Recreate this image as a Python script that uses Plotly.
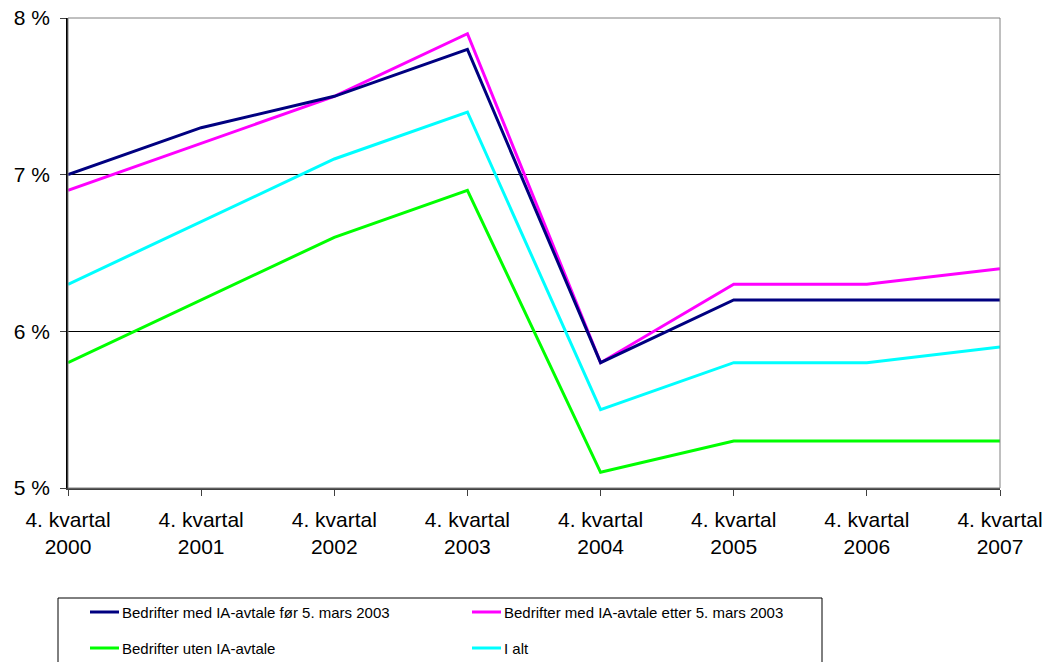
import plotly.graph_objects as go

categories = ["4. kvartal<br>2000", "4. kvartal<br>2001", "4. kvartal<br>2002", "4. kvartal<br>2003",
              "4. kvartal<br>2004", "4. kvartal<br>2005", "4. kvartal<br>2006", "4. kvartal<br>2007"]
series_names = ["Bedrifter med IA-avtale før 5. mars 2003",
                "Bedrifter med IA-avtale etter 5. mars 2003",
                "Bedrifter uten IA-avtale",
                "I alt"]
med_for = [7.0, 7.3, 7.5, 7.8, 5.8, 6.2, 6.2, 6.2]
med_etter = [6.9, 7.2, 7.5, 7.9, 5.8, 6.3, 6.3, 6.4]
uten = [5.8, 6.2, 6.6, 6.9, 5.1, 5.3, 5.3, 5.3]
i_alt = [6.3, 6.7, 7.1, 7.4, 5.5, 5.8, 5.8, 5.9]
y_ticks = [5, 6, 7, 8]
y_tick_labels = ["5 %", "6 %", "7 %", "8 %"]

colors = ["#000080", "#FF00FF", "#00FF00", "#00FFFF"]
all_series = [med_for, med_etter, uten, i_alt]
draw_order = [3, 2, 1, 0]

FONT = "Arial, Liberation Sans, sans-serif"
xs = list(range(len(categories)))

fig = go.Figure()
for i in draw_order:
    fig.add_trace(go.Scatter(x=xs, y=all_series[i], mode="lines", name=series_names[i],
                             line=dict(color=colors[i], width=3), showlegend=False))

# plot area border (grey)
fig.add_shape(type="rect", xref="paper", yref="paper", x0=0, x1=1, y0=0, y1=1,
              line=dict(color="#808080", width=1), layer="above")

# manual legend box
W, H = 932.0, 470.0
def px(x):
    return (x - 68) / W
def py(y):
    return (488 - y) / H

fig.add_shape(type="rect", xref="paper", yref="paper", x0=px(58), x1=px(822), y0=py(598), y1=py(675),
              line=dict(color="#000000", width=1), fillcolor="white", layer="above")
leg_pos = [(90, 612), (472, 612), (90, 648), (472, 648)]
for i, (lx, ly) in enumerate(leg_pos):
    fig.add_shape(type="line", xref="paper", yref="paper", x0=px(lx), x1=px(lx + 29), y0=py(ly), y1=py(ly),
                  line=dict(color=colors[i], width=3), layer="above")
    fig.add_annotation(xref="paper", yref="paper", x=px(lx + 30), y=py(ly), text=series_names[i],
                       showarrow=False, xanchor="left", yanchor="middle",
                       font=dict(family=FONT, size=15, color="black"))

fig.update_layout(
    width=1047, height=662,
    margin=dict(l=68, r=47, t=18, b=174),
    paper_bgcolor="white", plot_bgcolor="white",
    font=dict(family=FONT, size=21, color="black"),
    xaxis=dict(range=[0, 7], tickvals=xs, ticktext=categories, showgrid=False, zeroline=False,
               showline=True, linecolor="#404040", linewidth=1.5, ticks="outside", ticklen=6,
               tickcolor="#404040", ticklabelstandoff=6, automargin=False,
               tickfont=dict(family=FONT, size=21, color="black")),
    yaxis=dict(range=[5, 8], tickvals=y_ticks, ticktext=y_tick_labels, showgrid=True, gridcolor="black",
               gridwidth=1, zeroline=False, showline=True, linecolor="#000000", linewidth=1.5,
               ticks="outside", ticklen=6, tickcolor="#404040", ticklabelstandoff=6, automargin=False,
               tickfont=dict(family=FONT, size=21, color="black")),
    showlegend=False,
)

fig.write_html("out.html")
